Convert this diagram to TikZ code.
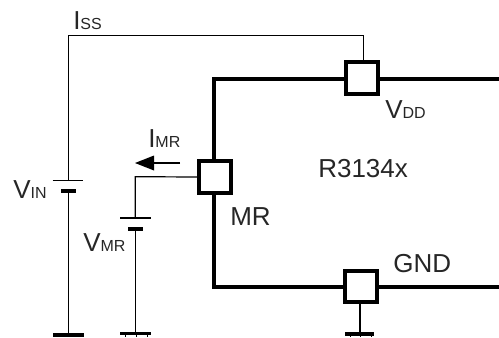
\documentclass[tikz,border=0pt]{standalone}
\usepackage{fontspec}
\setmainfont{Liberation Sans}
\newcommand{\lbl}[2]{{\fontsize{19.5pt}{20pt}\selectfont #1}{\fontsize{12pt}{12pt}\selectfont #2}}
\tikzset{
  x=0.75pt,y=-0.75pt,
  thickwire/.style={line width=3pt,line cap=butt,line join=miter},
  thinwire/.style={line width=0.9pt,line join=miter},
  pin/.style={draw,fill=white,line width=2.7pt,minimum size=23.6pt,inner sep=0pt,outer sep=0pt,rectangle},
  plate/.style={line width=0.9pt},
  heavyplate/.style={line width=3pt},
  groundplate/.style={line width=2.6pt},
  tick/.style={line width=0.7pt},
  txt/.style={inner sep=0pt,anchor=base west,text=black!85}
}
\begin{document}
\begin{tikzpicture}
\useasboundingbox (0,0) rectangle (499,337);
\coordinate (ne) at (499,78.5);
\coordinate (se) at (499,287);
\coordinate (tl) at (214,78.5);
\coordinate (bl) at (214,287);
\draw[thickwire] (ne) -- (tl) -- (bl) -- (se);
\node[pin] (vdd) at (362,78) {};
\node[pin] (mr) at (215,177) {};
\node[pin] (gnd) at (361,286.5) {};
% VIN branch
\coordinate (c1) at (68.3,35.7);
\coordinate (b1) at (68.3,180.7);
\coordinate (b1l) at (52.7,180.7);
\coordinate (b1r) at (83.3,180.7);
\coordinate (s1) at (68.3,191.3);
\coordinate (s1l) at (61,191.3);
\coordinate (s1r) at (75.7,191.3);
\coordinate (g1) at (68.3,335);
\coordinate (g1l) at (53,335);
\coordinate (g1r) at (83.5,335);
\draw[thinwire] (vdd.north) ++(1.3,0) |- (c1) -- (b1);
\draw[plate] (b1l) -- (b1r);
\draw[heavyplate] (s1l) -- (s1r);
\draw[thinwire] (s1) -- (g1);
\draw[heavyplate] (g1l) -- (g1r);
% VMR branch
\coordinate (c2) at (135.3,176.7);
\coordinate (b2) at (135.3,218);
\coordinate (b2l) at (120,218);
\coordinate (b2r) at (151,218);
\coordinate (s2) at (135.3,229);
\coordinate (s2l) at (128,229);
\coordinate (s2r) at (143,229);
\coordinate (g2) at (135.3,333.7);
\coordinate (g2l) at (120,333.7);
\coordinate (g2r) at (151,333.7);
\draw[thinwire] (mr.west) -- (c2) -- (b2);
\draw[plate] (b2l) -- (b2r);
\draw[heavyplate] (s2l) -- (s2r);
\draw[thinwire] (s2) -- (g2);
\draw[groundplate] (g2l) -- (g2r);
\draw[tick] (125,334) -- (125,337) (136,334) -- (136,337) (147,334) -- (147,337);
% GND
\coordinate (g3) at (360,334);
\coordinate (g3l) at (345,334);
\coordinate (g3r) at (374,334);
\draw[thinwire] (gnd.south) ++(-1,0) -- (g3);
\draw[groundplate] (g3l) -- (g3r);
\draw[tick] (350,334) -- (350,337) (360,334) -- (360,337) (371,334) -- (371,337);
% arrow
\coordinate (atail) at (180,163);
\coordinate (abase) at (154,163);
\coordinate (atip) at (135,163);
\draw[thinwire] (atail) -- (abase);
\fill (atip) -- (154,155.5) -- (154,170.5) -- cycle;
% labels
\node[txt] (iss) at (73,29) {\lbl{I}{SS}};
\node[txt] (imr) at (148,147.5) {\lbl{I}{MR}};
\node[txt] (vin) at (13,198) {\lbl{V}{IN}};
\node[txt] (vmr) at (83,251) {\lbl{V}{MR}};
\node[txt] (vddl) at (385,118) {\lbl{V}{DD}};
\node[txt] (name) at (318,177) {\fontsize{19.5pt}{20pt}\selectfont R3134x};
\node[txt] (mrl) at (230,225) {\fontsize{19.5pt}{20pt}\selectfont MR};
\node[txt] (gndl) at (393,272) {\fontsize{19.5pt}{20pt}\selectfont GND};
\end{tikzpicture}
\end{document}
